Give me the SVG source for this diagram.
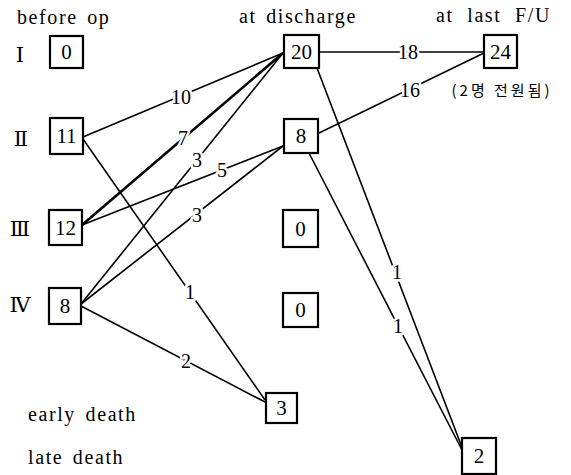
<svg xmlns="http://www.w3.org/2000/svg" width="571" height="475" viewBox="0 0 571 475">
<rect width="571" height="475" fill="#fff"/>
<g id="headers" font-size="20" letter-spacing="1.6" word-spacing="3" fill="#000">
<text font-family="Liberation Serif" x="17" y="24">before op</text>
<text font-family="Liberation Serif" x="239" y="23">at discharge</text>
<text font-family="Liberation Serif" x="436" y="22" word-spacing="7">at last F/U</text>
<text font-family="Liberation Serif" x="28" y="421">early death</text>
<text font-family="Liberation Serif" x="28" y="464">late death</text>
</g>
<g id="row-labels" font-size="21" fill="#000" text-anchor="middle">
<text font-family="DejaVu Serif" x="20" y="62">Ⅰ</text>
<text font-family="DejaVu Serif" x="21" y="146">Ⅱ</text>
<text font-family="DejaVu Serif" x="20" y="236">Ⅲ</text>
<text font-family="DejaVu Serif" x="20" y="312">Ⅳ</text>
</g>
<g id="connectors" stroke="#000" stroke-width="1.6" fill="none">
<line x1="83" y1="137" x2="283" y2="53"/>
<line x1="83" y1="139" x2="265" y2="400"/>
<line x1="82" y1="225" x2="283" y2="53" stroke-width="2.6"/>
<line x1="82" y1="225" x2="283" y2="146"/>
<line x1="81" y1="304" x2="283" y2="53"/>
<line x1="81" y1="304" x2="283" y2="146"/>
<line x1="81" y1="306" x2="265" y2="402"/>
<line x1="319" y1="52" x2="484" y2="52"/>
<line x1="319" y1="133" x2="484" y2="53"/>
<line x1="317" y1="68" x2="463" y2="450"/>
<line x1="309" y1="153" x2="462" y2="450"/>
<g font-size="20" fill="#000" text-anchor="middle" stroke="#fff" stroke-width="5" paint-order="stroke" stroke-linejoin="round">
<text font-family="Liberation Serif" x="181" y="104">10</text>
<text font-family="Liberation Serif" x="183" y="145">7</text>
<text font-family="Liberation Serif" x="197" y="167">3</text>
<text font-family="Liberation Serif" x="222" y="177">5</text>
<text font-family="Liberation Serif" x="197" y="222">3</text>
<text font-family="Liberation Serif" x="190" y="299">1</text>
<text font-family="Liberation Serif" x="186" y="368">2</text>
<text font-family="Liberation Serif" x="408" y="59">18</text>
<text font-family="Liberation Serif" x="410" y="97">16</text>
<text font-family="Liberation Serif" x="397" y="279">1</text>
<text font-family="Liberation Serif" x="398" y="333">1</text>
</g>
</g>
<g id="nodes" font-size="21" text-anchor="middle">
<g id="n_I"><rect fill="#fff" stroke="#000" stroke-width="2.2" x="50" y="36" width="33" height="32"/><text font-family="Liberation Serif" x="66.5" y="59">0</text></g>
<g id="n_II"><rect fill="#fff" stroke="#000" stroke-width="2.2" x="50" y="118" width="33" height="36"/><text font-family="Liberation Serif" x="66.5" y="143">11</text></g>
<g id="n_III"><rect fill="#fff" stroke="#000" stroke-width="2.2" x="49" y="210" width="33" height="35"/><text font-family="Liberation Serif" x="65.5" y="235">12</text></g>
<g id="n_IV"><rect fill="#fff" stroke="#000" stroke-width="2.2" x="49" y="288" width="32" height="36"/><text font-family="Liberation Serif" x="65" y="313">8</text></g>
<g id="n_d20"><rect fill="#fff" stroke="#000" stroke-width="2.2" x="284" y="35" width="35" height="33"/><text font-family="Liberation Serif" x="301.5" y="59">20</text></g>
<g id="n_d8"><rect fill="#fff" stroke="#000" stroke-width="2.2" x="284" y="119" width="34" height="34"/><text font-family="Liberation Serif" x="301" y="143">8</text></g>
<g id="n_d0a"><rect fill="#fff" stroke="#000" stroke-width="2.2" x="283" y="210" width="35" height="37"/><text font-family="Liberation Serif" x="300.5" y="236">0</text></g>
<g id="n_d0b"><rect fill="#fff" stroke="#000" stroke-width="2.2" x="283" y="293" width="35" height="34"/><text font-family="Liberation Serif" x="300.5" y="317">0</text></g>
<g id="n_early"><rect fill="#fff" stroke="#000" stroke-width="2.2" x="266" y="393" width="31" height="30"/><text font-family="Liberation Serif" x="281.5" y="415">3</text></g>
<g id="n_late"><rect fill="#fff" stroke="#000" stroke-width="2.2" x="462" y="438" width="34" height="36"/><text font-family="Liberation Serif" x="479" y="463">2</text></g>
<g id="n_fu24"><rect fill="#fff" stroke="#000" stroke-width="2.2" x="484" y="35" width="33" height="33"/><text font-family="Liberation Serif" x="500.5" y="59">24</text><text font-family="Noto Sans CJK KR" font-size="15" letter-spacing="3" x="502" y="96">(2명 전원됨)</text></g>
</g>
</svg>
